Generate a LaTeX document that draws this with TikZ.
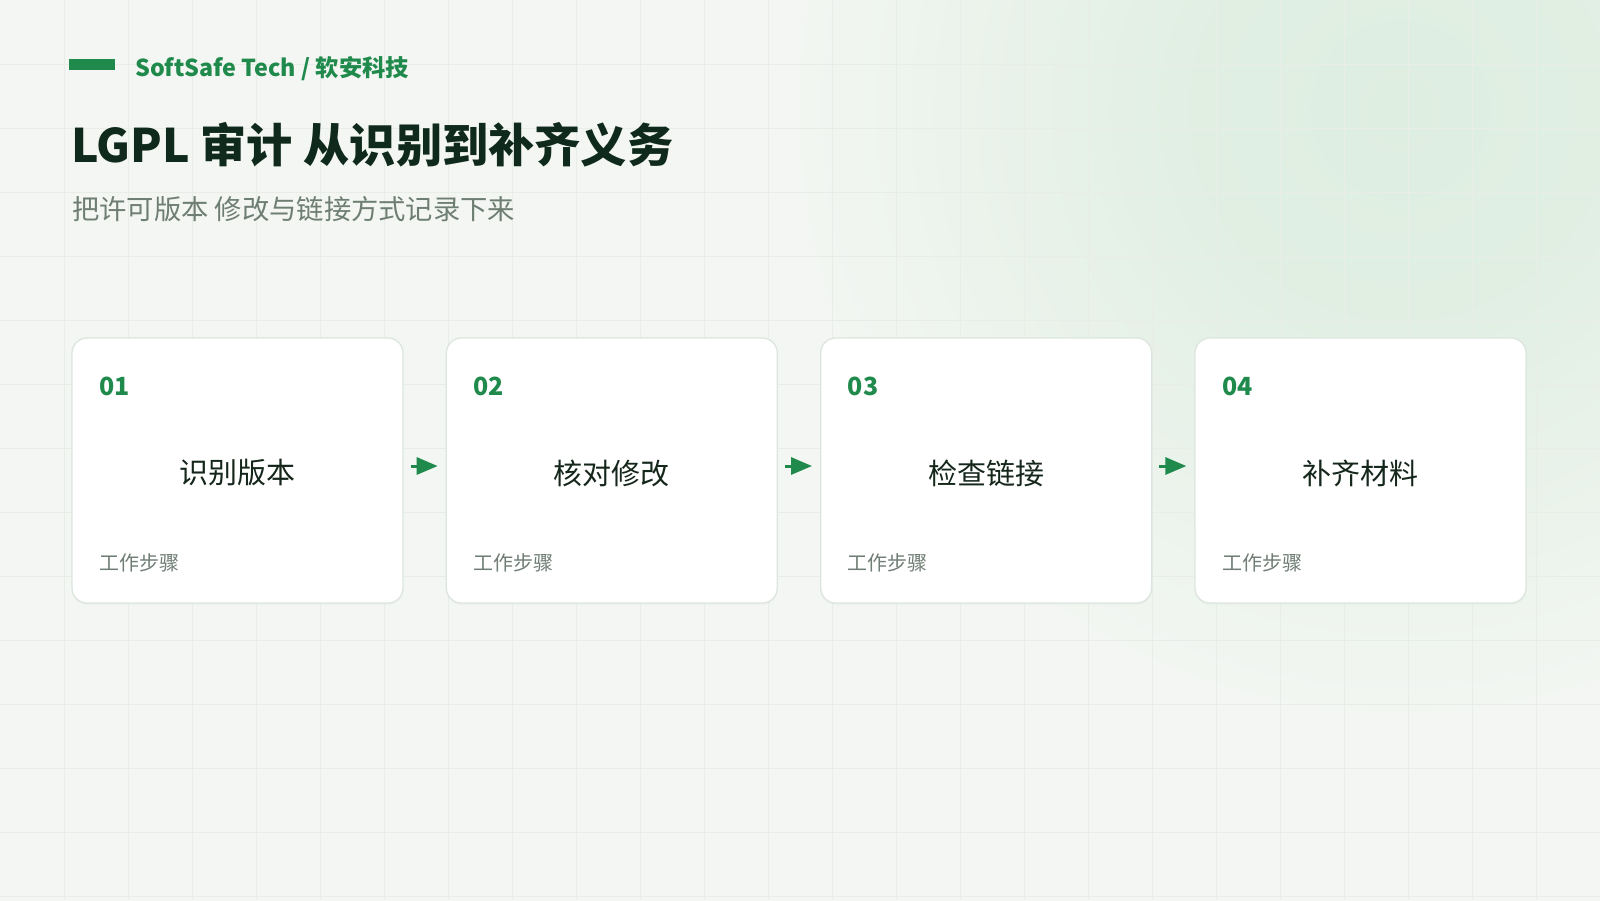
\documentclass[tikz,border=0pt]{standalone}
\usepackage{fontspec}
\setmainfont{Noto Sans CJK SC}
\usetikzlibrary{arrows.meta,shadows}
\definecolor{bg}{HTML}{F3F6F2}
\definecolor{glow}{HTML}{DEEEE1}
\definecolor{gridc}{HTML}{E8EDE8}
\definecolor{brand}{HTML}{1F8A4C}
\definecolor{titlec}{HTML}{0F2A1C}
\definecolor{subc}{HTML}{6E7E73}
\definecolor{labc}{HTML}{15261B}
\definecolor{notec}{HTML}{6F7D74}
\definecolor{cardline}{HTML}{DCE5DE}
\pgfdeclareradialshading{glowshade}{\pgfpoint{0bp}{0bp}}{%
  color(0bp)=(glow); color(3bp)=(glow!85!bg); color(8.5bp)=(bg); color(50bp)=(bg)}
\tikzset{
  card/.style={draw=cardline, line width=1.3pt, fill=white, rounded corners=15pt,
    minimum width=331pt, minimum height=265pt, inner sep=0pt,
    drop shadow={opacity=0.04, shadow xshift=0pt, shadow yshift=-2pt}},
  numtxt/.style={anchor=base west, inner sep=0pt, text=brand, font=\fontsize{25}{30}\selectfont\bfseries},
  labtxt/.style={anchor=center, inner sep=0pt, text=labc, font=\fontsize{29}{34}\selectfont},
  notetxt/.style={anchor=west, inner sep=0pt, text=notec, font=\fontsize{20}{24}\selectfont},
  flow/.style={draw=brand, line width=3pt, -{Triangle[length=21pt,width=17pt]}},
  gridline/.style={draw=gridc, line width=1pt}
}
\begin{document}
\begin{tikzpicture}[x=1pt,y=-1pt]
\useasboundingbox (0,0) rectangle (1600,900);
\fill[bg] (0,0) rectangle (1600,900);
\begin{scope}
  \clip (0,0) rectangle (1600,900);
  \shade[shading=glowshade] (1400,110) circle (1800);
  \foreach \g in {64,128,...,1599} { \draw[gridline] (\g,0) -- (\g,900); }
  \foreach \g in {64,128,...,899} { \draw[gridline] (0,\g) -- (1600,\g); }
\end{scope}

% header
\fill[brand] (69,59) rectangle (115,70);
\node[anchor=base west, inner sep=0pt, text=brand, font=\fontsize{23.3}{28}\selectfont\bfseries] (brandtxt) at (135,76) {SoftSafe Tech / 软安科技};
\node[anchor=base west, inner sep=0pt, text=titlec, font=\fontsize{46.2}{56}\selectfont\bfseries] (title) at (71,162) {LGPL 审计 从识别到补齐义务};
\node[anchor=west, inner sep=0pt, text=subc, font=\fontsize{27.3}{34}\selectfont] (sub) at (72,209) {把许可版本 修改与链接方式记录下来};

% cards
\foreach \i/\n/\t in {1/01/识别版本, 2/02/核对修改, 3/03/检查链接, 4/04/补齐材料} {
  \pgfmathsetmacro{\L}{72+374.33*(\i-1)}
  \node[card] (b\i) at (\L+165.5,470.5) {};
  \node[numtxt] (n\i) at (\L+27,395) {\n};
  \node[labtxt] (l\i) at (\L+165.5,473) {\t};
  \node[notetxt] (s\i) at (\L+27,563) {工作步骤};
}
\foreach \a/\b in {1/2,2/3,3/4} {
  \draw[flow] ([xshift=7pt,yshift=4.5pt]b\a.east) -- ([xshift=-8pt,yshift=4.5pt]b\b.west);
}
\end{tikzpicture}
\end{document}
